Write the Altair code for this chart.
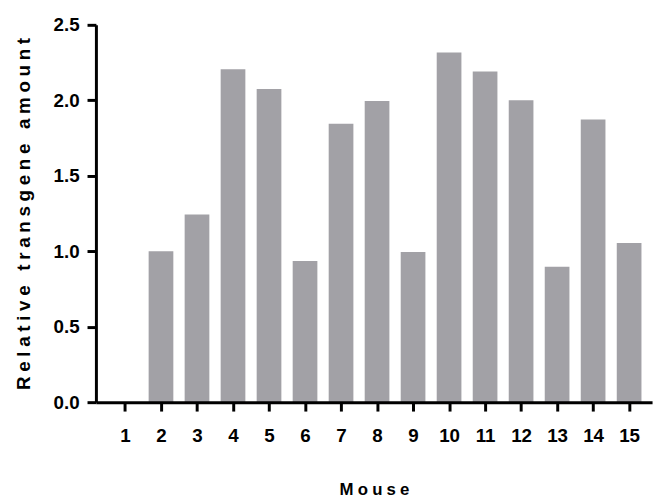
import altair as alt
import pandas as pd

mice = list(range(1, 16))
amounts = [0.0, 1.0, 1.243, 2.205, 2.075, 0.936, 1.845, 1.996, 0.995, 2.317, 2.19, 2.0, 0.897, 1.872, 1.054]
y_ticks = [0.0, 0.5, 1.0, 1.5, 2.0, 2.5]

x_title = "Mouse"
y_title = "Relative transgene amount"

GAP = "\u2005"          # four-per-em space between letters
WORD = "\u2005\u00a0\u2005"  # wider gap between words


def tracked(s):
    # letter-spaced title, as in the reference
    return WORD.join(GAP.join(list(w)) for w in s.split(" "))


df = pd.DataFrame({"Mouse": mice, "Amount": amounts})

FONT = "Liberation Sans"

chart = alt.Chart(df).transform_filter(
    alt.datum.Amount > 0
).mark_bar(size=25, color="#a2a1a6").encode(
    x=alt.X(
        "Mouse:Q",
        scale=alt.Scale(domain=[0.33, 15.5], nice=False, zero=False),
        axis=alt.Axis(
            values=mice, format="d", title=tracked(x_title), grid=False, zindex=1,
            domainColor="black", domainWidth=3, tickColor="black", tickWidth=3, tickSize=9,
            labelFont=FONT, labelFontSize=19, labelFontWeight="bold", labelColor="black",
            labelPadding=16, labelBaseline="top",
            titleFont=FONT, titleFontSize=17, titleFontWeight="bold", titleColor="black",
            titleY=93, titleBaseline="alphabetic",
        ),
    ),
    y=alt.Y(
        "Amount:Q",
        scale=alt.Scale(domain=[0, 2.5], nice=False),
        axis=alt.Axis(
            values=y_ticks, format=".1f", title=tracked(y_title), grid=False, zindex=1,
            domainColor="black", domainWidth=3, tickColor="black", tickWidth=3, tickSize=9,
            labelFont=FONT, labelFontSize=19, labelFontWeight="bold", labelColor="black",
            labelPadding=8,
            titleFont=FONT, titleFontSize=19, titleFontWeight="bold", titleColor="black",
            titleX=-67, titleY=191, titleBaseline="alphabetic", titleAlign="center", titleAngle=270,
        ),
    ),
).properties(
    width=563,
    height=382,
    autosize=alt.AutoSizeParams(type="none"),
    padding={"left": 89, "top": 14, "right": 5, "bottom": 96},
).configure_view(stroke=None)

chart.save("out.html", embed_options={"renderer": "svg", "actions": False})
